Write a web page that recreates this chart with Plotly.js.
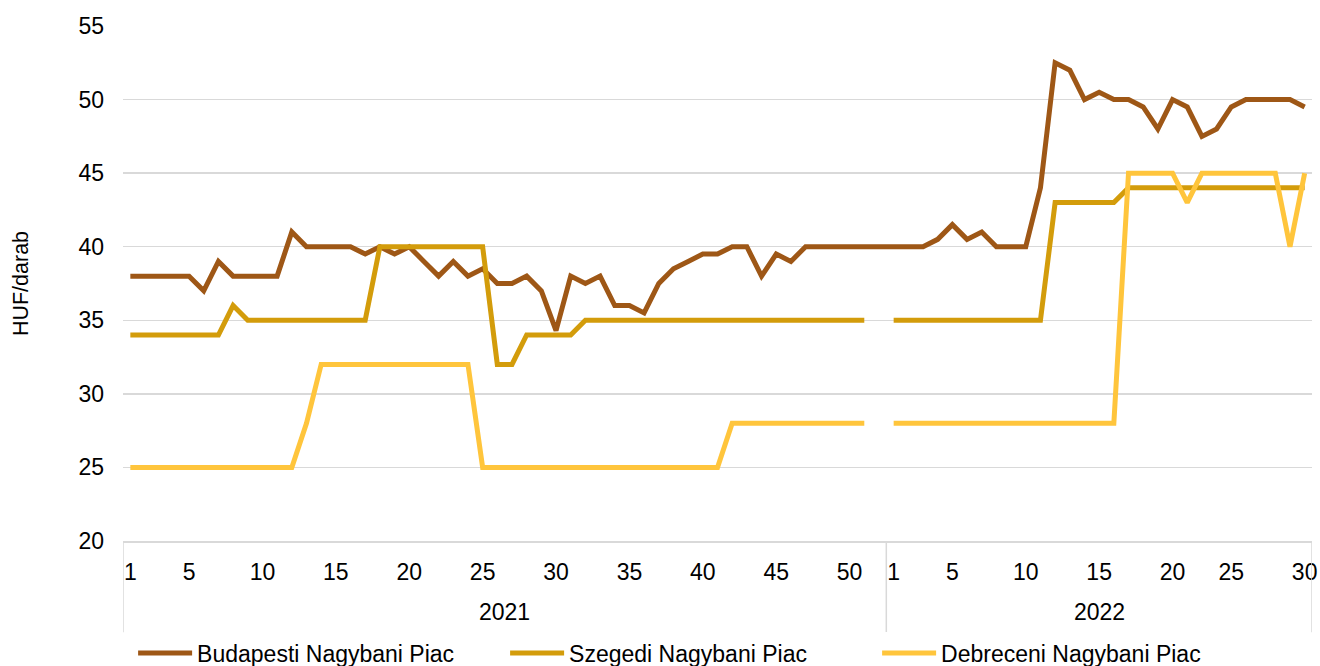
<!DOCTYPE html>
<html>
<head>
<meta charset="utf-8">
<script src="https://cdn.plot.ly/plotly-3.0.1.min.js"></script>
<style>html,body{margin:0;padding:0;background:#fff;}#chart{width:1320px;height:666px;}</style>
</head>
<body>
<div id="chart"></div>
<script>
// ---- data ----
const years = ['2021', '2022'];
const weeks2021 = [1,2,3,4,5,6,7,8,9,10,11,12,13,14,15,16,17,18,19,20,21,22,23,24,25,26,
                   27,28,29,30,31,32,33,34,35,36,37,38,39,40,41,42,43,44,45,46,47,48,49,50,51,52];
const weeks2022 = [1,2,3,4,5,6,7,8,9,10,11,12,13,14,15,16,17,18,19,20,21,22,23,25,26,27,28,29,30];
const labelWeeks = [1,5,10,15,20,25,30,35,40,45,50];

const budapest2021 = [38,38,38,38,38,37,39,38,38,38,38,41,40,40,40,40,39.5,40,39.5,40,39,38,39,38,38.5,37.5,
                      37.5,38,37,34.3,38,37.5,38,36,36,35.5,37.5,38.5,39,39.5,39.5,40,40,38,39.5,39,40,40,40,40,40,40];
const budapest2022 = [40,40,40,40.5,41.5,40.5,41,40,40,40,44,52.5,52,50,50.5,50,50,49.5,48,50,49.5,47.5,48,49.5,50,50,50,50,49.5];

const szeged2021 = [34,34,34,34,34,34,34,36,35,35,35,35,35,35,35,35,35,40,40,40,40,40,40,40,40,32,
                    32,34,34,34,34,35,35,35,35,35,35,35,35,35,35,35,35,35,35,35,35,35,35,35,35,null];
const szeged2022 = [35,35,35,35,35,35,35,35,35,35,35,43,43,43,43,43,44,44,44,44,44,44,44,44,44,44,44,44,44];

const debrecen2021 = [25,25,25,25,25,25,25,25,25,25,25,25,28,32,32,32,32,32,32,32,32,32,32,32,25,25,
                      25,25,25,25,25,25,25,25,25,25,25,25,25,25,25,28,28,28,28,28,28,28,28,28,28,null];
const debrecen2022 = [28,28,28,28,28,28,28,28,28,28,28,28,28,28,28,28,45,45,45,45,43,45,45,45,45,45,45,40,45];

const seriesNames = ['Budapesti Nagybani Piac', 'Szegedi Nagybani Piac', 'Debreceni Nagybani Piac'];
const seriesColors = ['#9E5716', '#D39C0B', '#FFC53C'];

// ---- build ----
const keys2021 = weeks2021.map(w => years[0] + '-' + w);
const keys2022 = weeks2022.map(w => years[1] + '-' + w);
const xKeys = keys2021.concat(keys2022);
const seriesValues = [
  budapest2021.concat(budapest2022),
  szeged2021.concat(szeged2022),
  debrecen2021.concat(debrecen2022)
];

const tickvals = [], ticktext = [];
weeks2021.forEach((w, i) => { if (labelWeeks.includes(w)) { tickvals.push(keys2021[i]); ticktext.push(String(w)); } });
weeks2022.forEach((w, i) => { if (labelWeeks.includes(w)) { tickvals.push(keys2022[i]); ticktext.push(String(w)); } });

const traces = seriesNames.map((name, i) => ({
  type: 'scatter', mode: 'lines', name: name,
  x: xKeys, y: seriesValues[i],
  line: {color: seriesColors[i], width: 5},
  connectgaps: false, hoverinfo: 'skip'
}));

const n1 = weeks2021.length, n2 = weeks2022.length;
const boundaries = [-0.5, n1 - 0.5, n1 + n2 - 0.5];
const axisColor = '#D9D9D9';
const font = 'Liberation Sans, Arial, sans-serif';

const shapes = boundaries.map(b => ({
  type: 'line', xref: 'x', yref: 'paper', x0: b, x1: b, y0: 0, y1: -0.177,
  line: {color: axisColor, width: 1.5}
}));

const annotations = years.map((yr, i) => ({
  xref: 'x', yref: 'paper',
  x: i === 0 ? (n1 - 1) / 2 : n1 + (n2 - 1) / 2,
  y: -0.138, yanchor: 'middle', xanchor: 'center',
  text: yr, showarrow: false, font: {family: font, size: 23, color: '#000'}
}));

const layout = {
  width: 1320, height: 666,
  margin: {l: 123, r: 8, t: 26, b: 125},
  paper_bgcolor: '#fff', plot_bgcolor: '#fff',
  font: {family: font, size: 23, color: '#000'},
  showlegend: true,
  legend: {
    orientation: 'h', xref: 'paper', x: 0.0085, xanchor: 'left',
    yref: 'container', y: 0.0195, yanchor: 'middle',
    font: {family: font, size: 23, color: '#000'},
    itemwidth: 54, entrywidth: 303, traceorder: 'normal'
  },
  xaxis: {
    type: 'category', categoryorder: 'array', categoryarray: xKeys,
    range: [-0.5, n1 + n2 - 0.5],
    tickmode: 'array', tickvals: tickvals, ticktext: ticktext,
    showgrid: false, zeroline: false,
    showline: true, linecolor: axisColor, linewidth: 1.5,
    ticks: '', ticklabelstandoff: 10,
    tickfont: {family: font, size: 23, color: '#000'}
  },
  yaxis: {
    range: [20, 55], dtick: 5, tick0: 20,
    showgrid: true, gridcolor: axisColor, gridwidth: 1.5,
    zeroline: false, showline: false, ticks: '',
    ticklabelstandoff: 18,
    tickfont: {family: font, size: 23, color: '#000'},
    title: {text: 'HUF/darab', standoff: 43, font: {family: font, size: 21.5, color: '#000'}}
  },
  shapes: shapes,
  annotations: annotations
};

Plotly.newPlot('chart', traces, layout, {displayModeBar: false, staticPlot: true});
</script>
</body>
</html>
